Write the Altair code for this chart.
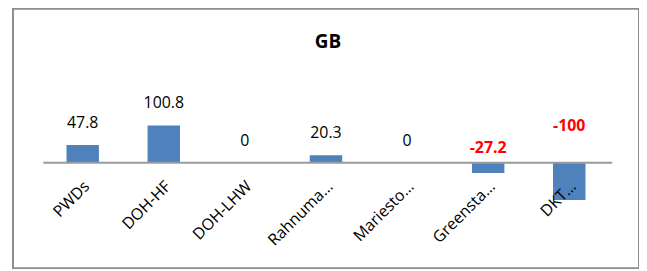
import altair as alt
import pandas as pd

categories = ["PWDs", "DOH-HF", "DOH-LHW", "Rahnuma…", "Mariesto…", "Greensta…", "DKT…"]
values = [47.8, 100.8, 0, 20.3, 0, -27.2, -100]
value_labels = ["47.8", "100.8", "0", "20.3", "0", "-27.2", "-100"]
title_text = "GB"

df = pd.DataFrame({"category": categories, "value": values, "label": value_labels})

FONT = "Open Sans"
x_scale = alt.Scale(domain=categories, paddingInner=0.6, paddingOuter=0.66)
y_scale = alt.Scale(domain=[-283.4, 414.4], nice=False, zero=False)

base = alt.Chart(df)

bars = base.mark_bar(color="#4f81bd").encode(
    x=alt.X("category:N", scale=x_scale, axis=None, sort=categories),
    y=alt.Y("value:Q", scale=y_scale, axis=None),
    y2=alt.Y2(datum=0),
)

zero_line = alt.Chart(pd.DataFrame({"z": [0]})).mark_rule(
    color="#9a9a9a", strokeWidth=2
).encode(
    y=alt.Y("z:Q", scale=y_scale, axis=None),
    x=alt.value(30.5),
    x2=alt.value(603),
)

pos_labels = base.transform_filter("datum.value >= 0").mark_text(
    font=FONT, fontSize=16, color="black", baseline="middle", dy=-22
).encode(
    x=alt.X("category:N", scale=x_scale, axis=None, sort=categories),
    y=alt.Y("value:Q", scale=y_scale, axis=None),
    text="label:N",
)

neg_labels = base.transform_filter("datum.value < 0").transform_calculate(
    lpos="-0.82 * datum.value - 42"
).mark_text(
    font=FONT, fontSize=16, fontWeight="bold", color="#ff0000", baseline="middle", dy=-22
).encode(
    x=alt.X("category:N", scale=x_scale, axis=None, sort=categories),
    y=alt.Y("lpos:Q", scale=y_scale, axis=None),
    text="label:N",
)

cat_labels = base.transform_calculate(z="0").mark_text(
    font=FONT, fontSize=16, color="black", angle=315, align="right",
    baseline="middle", dx=-12, dy=18
).encode(
    x=alt.X("category:N", scale=x_scale, axis=None, sort=categories),
    y=alt.Y("z:Q", scale=y_scale, axis=None),
    text="category:N",
)

title = alt.Chart(pd.DataFrame({"t": [title_text]})).mark_text(
    font=FONT, fontSize=19, fontWeight="bold", color="black", baseline="middle"
).encode(
    x=alt.value(317),
    y=alt.value(33),
    text="t:N",
)

chart = alt.layer(bars, zero_line, pos_labels, neg_labels, cat_labels, title).properties(
    width=630,
    height=261,
    padding={"left": 5, "top": 0, "right": 0, "bottom": 0},
    autosize=alt.AutoSizeParams(type="none"),
    background="white",
).configure_view(stroke="#8c8c8c", strokeWidth=2)

chart.save("out.html", embed_options={"renderer": "svg", "actions": False})
